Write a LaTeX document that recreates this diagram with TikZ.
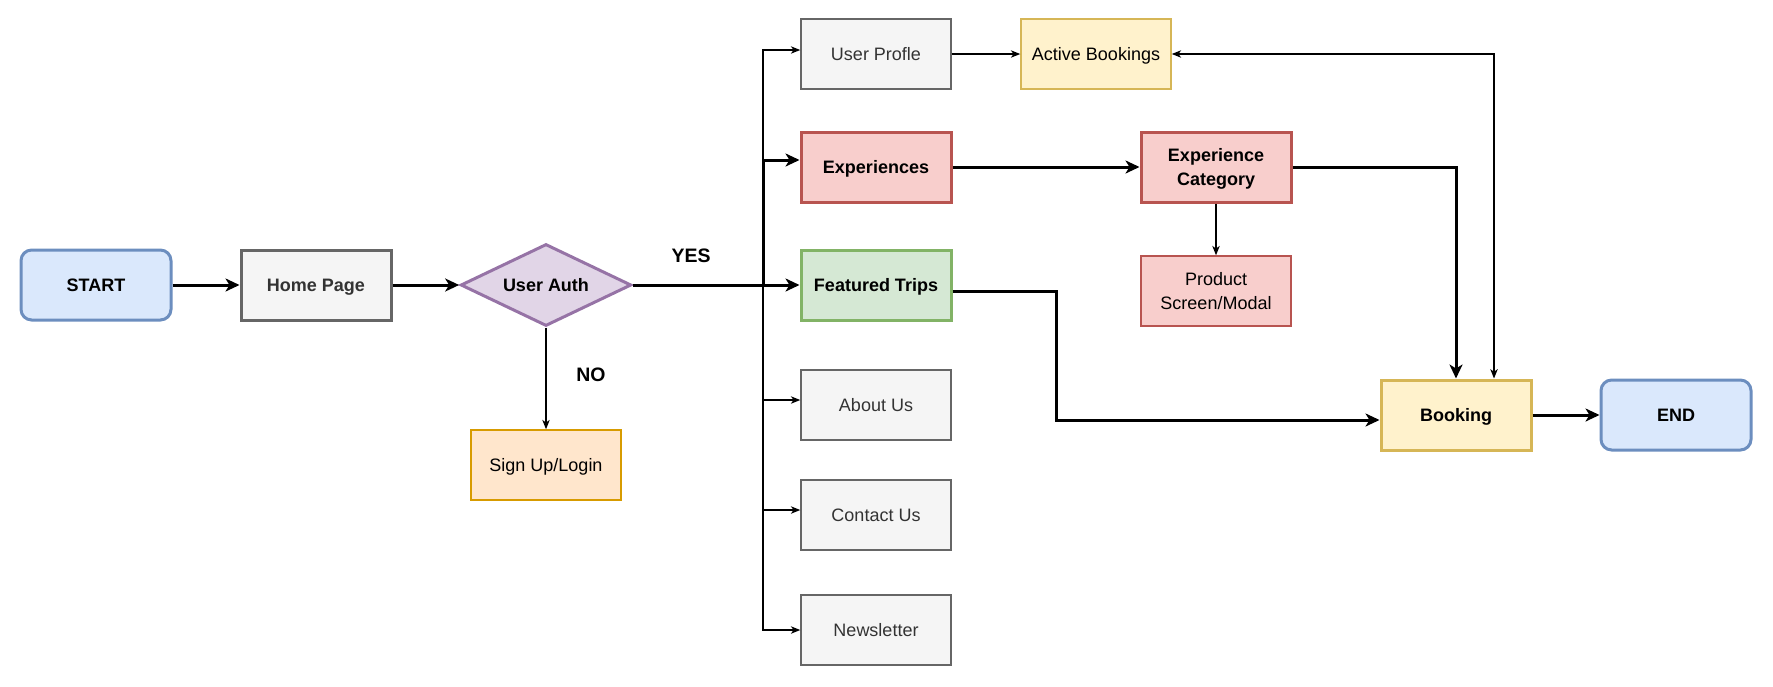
\documentclass[tikz,border=0pt]{standalone}
\usepackage{fontspec}
\setmainfont{Liberation Sans}
\usetikzlibrary{shapes.geometric,arrows.meta,calc}
\definecolor{bluefill}{HTML}{DAE8FC}
\definecolor{bluedraw}{HTML}{6C8EBF}
\definecolor{grayfill}{HTML}{F5F5F5}
\definecolor{graydraw}{HTML}{666666}
\definecolor{graytext}{HTML}{333333}
\definecolor{purplefill}{HTML}{E1D5E7}
\definecolor{purpledraw}{HTML}{9673A6}
\definecolor{orangefill}{HTML}{FFE6CC}
\definecolor{orangedraw}{HTML}{D79B00}
\definecolor{redfill}{HTML}{F8CECC}
\definecolor{reddraw}{HTML}{B85450}
\definecolor{greenfill}{HTML}{D5E8D4}
\definecolor{greendraw}{HTML}{82B366}
\definecolor{yellowfill}{HTML}{FFF2CC}
\definecolor{yellowdraw}{HTML}{D6B656}
\tikzset{
  basebox/.style={rectangle, minimum width=112.5pt, minimum height=52.5pt, inner sep=0pt, align=center,
    font=\fontsize{13.5}{18}\selectfont, text height=9.7pt, text depth=0pt},
  twoline/.style={text height=27.7pt, text depth=0pt},
  thinbox/.style={basebox, line width=1.1pt},
  thickbox/.style={basebox, line width=2.25pt, font=\fontsize{13.5}{18}\selectfont\bfseries},
  termbox/.style={thickbox, rounded corners=8pt, draw=bluedraw, fill=bluefill},
  graybox/.style={thinbox, draw=graydraw, fill=grayfill, text=graytext},
  thickline/.style={line width=2.25pt, -{Stealth[length=10.5pt,width=9.75pt,inset=3pt]}},
  thinline/.style={line width=1.1pt, -{Stealth[length=7pt,width=5.5pt,inset=2pt]}},
  thinboth/.style={line width=1.1pt, {Stealth[length=7pt,width=5.5pt,inset=2pt]}-{Stealth[length=7pt,width=5.5pt,inset=2pt]}},
  labeltext/.style={font=\fontsize{14.6}{17}\selectfont\bfseries, inner sep=0pt}
}
\begin{document}
\begin{tikzpicture}[x=0.75pt,y=-0.75pt]
\useasboundingbox (0,0) rectangle (1773,686);
% nodes
\node[termbox] (start) at (96,285) {START};
\node[thickbox, draw=graydraw, fill=grayfill, text=graytext] (home) at (316,285) {Home Page};
\node[diamond, draw=purpledraw, fill=purplefill, line width=2.25pt, aspect=2.085, inner sep=0pt,
      minimum width=128pt, minimum height=61.5pt, text height=9.7pt, text depth=0pt,
      font=\fontsize{13.5}{17}\selectfont\bfseries] (auth) at (546,285) {User Auth};
\node[thinbox, draw=orangedraw, fill=orangefill] (signup) at (546,465) {Sign Up/Login};
\node[graybox] (prof) at (876,54) {User Profle};
\node[thickbox, draw=reddraw, fill=redfill] (exp) at (876,167) {Experiences};
\node[thickbox, draw=greendraw, fill=greenfill] (feat) at (876,285) {Featured Trips};
\node[graybox] (about) at (876,405) {About Us};
\node[graybox] (contact) at (876,515) {Contact Us};
\node[graybox] (news) at (876,630) {Newsletter};
\node[thinbox, draw=yellowdraw, fill=yellowfill] (active) at (1096,54) {Active Bookings};
\node[thickbox, twoline, draw=reddraw, fill=redfill] (expcat) at (1216,167) {Experience\\Category};
\node[thinbox, twoline, draw=reddraw, fill=redfill] (product) at (1216,291) {Product\\Screen/Modal};
\node[thickbox, draw=yellowdraw, fill=yellowfill] (booking) at (1456,415) {Booking};
\node[termbox] (end) at (1676,415) {END};
\node[labeltext] (yes) at (691,256) {YES};
\node[labeltext] (no) at (591,375) {NO};
\coordinate (bus) at (763,285);
\coordinate (ftmid) at (1056,350);
% connectors
\draw[thickline] (start) -- (home);
\draw[thickline] (home) -- (auth);
\draw[thinline] (auth) -- (signup);
\draw[thinline] (bus) |- ([yshift=3pt]prof.west);
\draw[thinline] (bus) |- ([yshift=3.75pt]about.west);
\draw[thinline] (bus) |- ([yshift=3.75pt]contact.west);
\draw[thinline] (bus) |- (news.west);
\draw[thickline] (auth.east) -- (feat.west);
\draw[thickline] (bus) |- ([yshift=5.25pt]exp.west);
\draw[thinline] (prof) -- (active);
\draw[thickline] (exp) -- (expcat);
\draw[thinline] (expcat) -- (product);
\draw[thickline] (expcat.east) -| (booking.north);
\draw[thinboth] (active.east) -| ([xshift=28.5pt]booking.north);
\draw[thickline] ([yshift=-4.5pt]feat.east) -| (ftmid) |- ([yshift=-3.75pt]booking.west);
\draw[thickline] (booking) -- (end);
\end{tikzpicture}
\end{document}
